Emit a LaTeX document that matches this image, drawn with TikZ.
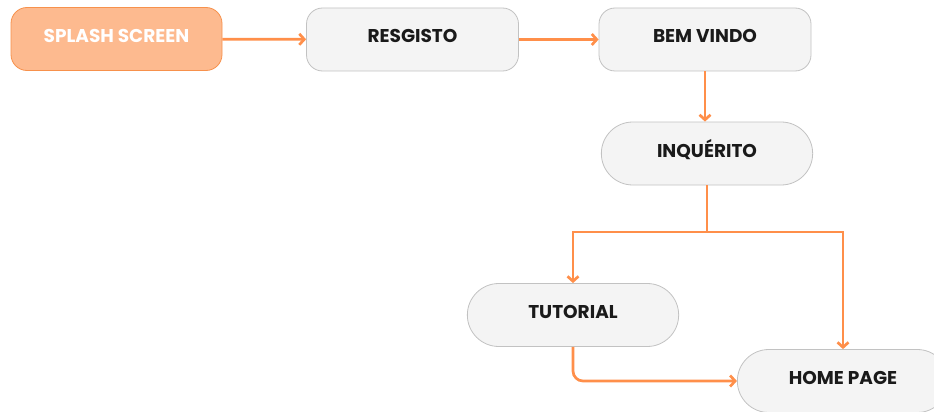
\documentclass[tikz,border=0pt]{standalone}
\usepackage{fontspec}
\setmainfont{Poppins}
\usetikzlibrary{arrows.meta,shapes.misc}

\definecolor{flow}{HTML}{FF8F4A}
\definecolor{splashfill}{HTML}{FDBA8F}
\definecolor{splashline}{HTML}{F7914C}
\definecolor{boxfill}{HTML}{F4F4F4}
\definecolor{boxline}{HTML}{C2C2C2}
\definecolor{textdark}{HTML}{1A1A1A}

\tikzset{
  screen/.style={rounded rectangle, draw=boxline, fill=boxfill, line width=0.8pt,
    minimum width=218pt, minimum height=63pt, text=textdark,
    font=\fontsize{18.5}{22}\selectfont\bfseries, text height=13.5pt, text depth=6.5pt},
  flatscreen/.style={screen, rectangle, rounded corners=16pt, minimum width=212pt},
  link/.style={draw=flow, line width=2.7pt, -{Straight Barb[length=5pt,width=11pt]}},
  trunk/.style={draw=flow, line width=2.7pt}
}

\begin{document}
\begin{tikzpicture}[x=1pt,y=-1pt]
\useasboundingbox (0,0) rectangle (934,412);
\clip (0,0) rectangle (934,412);

   % screens
   \node[flatscreen, draw=splashline, fill=splashfill, text=white, minimum width=211pt] (splash) at (116.5,39) {SPLASH SCREEN};
   \node[flatscreen] (resgisto) at (412.5,39.5) {RESGISTO};
   \node[flatscreen] (bemvindo) at (705,39.5) {BEM VINDO};
   \node[screen] (inquerito) at (707,153.5) {INQUÉRITO};
   \node[screen] (tutorial) at (573,315) {TUTORIAL};
   \node[screen] (homepage) at (843,381) {HOME PAGE};
   \coordinate (split) at (707,232);

   % flow between screens
   \draw[link] (splash) -- (resgisto);
   \draw[link] (resgisto) -- (bemvindo);
   \draw[link] (bemvindo.south) -- (bemvindo.south |- inquerito.north);
   \draw[trunk] (inquerito.south) -- (split);
   \draw[link] (split) -| (tutorial.north);
   \draw[link] (split) -| (homepage.north);
   \draw[link, rounded corners=10pt] (tutorial.south) |- (homepage.west);
\end{tikzpicture}
\end{document}
